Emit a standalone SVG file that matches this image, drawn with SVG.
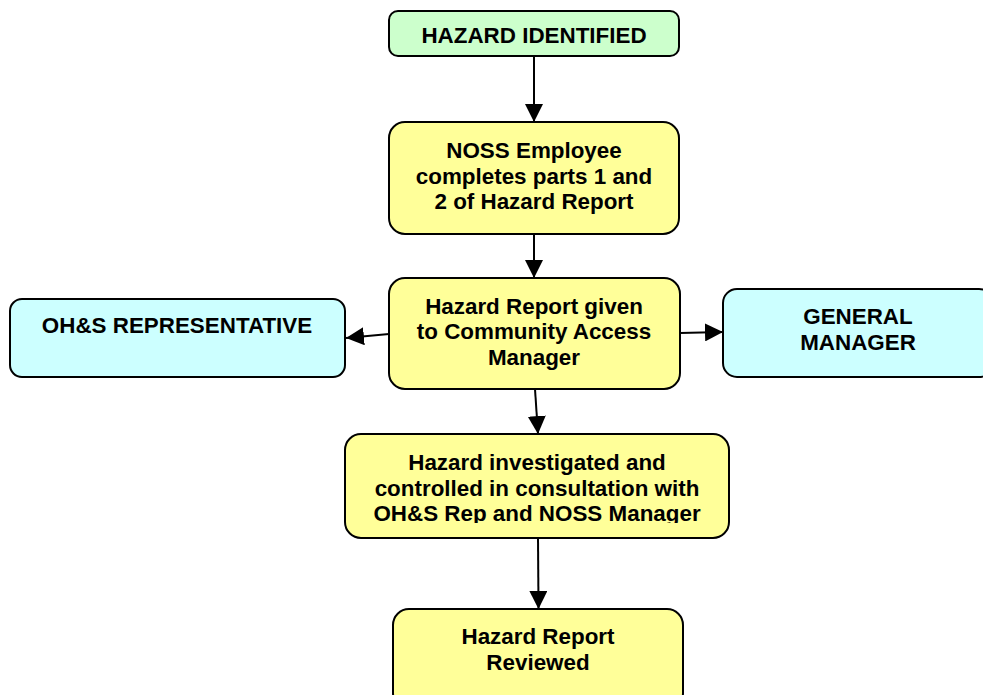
<svg xmlns="http://www.w3.org/2000/svg" width="983" height="695" viewBox="0 0 983 695">
<style>
.box{stroke:#000;stroke-width:2}
.g{fill:#ccffcc}
.y{fill:#ffff99}
.c{fill:#ccffff}
text{font-family:"Liberation Sans",Arial,sans-serif;font-weight:bold;font-size:22.4px;fill:#000;text-anchor:middle}
.conn{stroke:#000;stroke-width:2;fill:none;marker-end:url(#ah)}
</style>
<defs>
<marker id="ah" markerUnits="userSpaceOnUse" markerWidth="18" markerHeight="18" viewBox="0 0 16 16" refX="16" refY="8" orient="auto">
<path d="M0,0 L16,8 L0,16 Z" fill="#000"/>
</marker>
<clipPath id="clip4"><rect x="345" y="434" width="384" height="89"/></clipPath>
</defs>
<rect width="983" height="695" fill="#fff"/>
<g id="connectors">
<line class="conn" x1="534" y1="56" x2="534" y2="122"/>
<line class="conn" x1="534" y1="234" x2="534" y2="278"/>
<line class="conn" x1="389" y1="334" x2="346" y2="338"/>
<line class="conn" x1="680" y1="333" x2="723" y2="332"/>
<line class="conn" x1="535" y1="389" x2="538" y2="434"/>
<line class="conn" x1="538" y1="538" x2="538.5" y2="609"/>
</g>
<g id="hazard-identified">
<rect class="box g" x="389" y="11" width="290" height="45" rx="9"/>
<text x="534" y="43">HAZARD IDENTIFIED</text>
</g>
<g id="noss-employee">
<rect class="box y" x="389" y="122" width="290" height="112" rx="16"/>
<text x="534" y="158">NOSS Employee</text>
<text x="534" y="184">completes parts 1 and</text>
<text x="534" y="209">2 of Hazard Report</text>
</g>
<g id="report-given">
<rect class="box y" x="389" y="278" width="291" height="111" rx="16"/>
<text x="534" y="314">Hazard Report given</text>
<text x="534" y="339">to Community Access</text>
<text x="534" y="365">Manager</text>
</g>
<g id="ohs-rep">
<rect class="box c" x="10" y="299" width="335" height="78" rx="12"/>
<text x="177" y="333">OH&amp;S REPRESENTATIVE</text>
</g>
<g id="general-manager">
<rect class="box c" x="723" y="289" width="270" height="88" rx="14"/>
<text x="858" y="324">GENERAL</text>
<text x="858" y="350">MANAGER</text>
</g>
<g id="investigated">
<rect class="box y" x="345" y="434" width="384" height="104" rx="16"/>
<g clip-path="url(#clip4)">
<text x="537" y="470">Hazard investigated and</text>
<text x="537" y="496">controlled in consultation with</text>
<text x="537" y="521">OH&amp;S Rep and NOSS Manager</text>
</g>
</g>
<g id="reviewed">
<rect class="box y" x="393" y="609" width="290" height="100" rx="16"/>
<text x="538" y="644">Hazard Report</text>
<text x="538" y="670">Reviewed</text>
</g>
</svg>
